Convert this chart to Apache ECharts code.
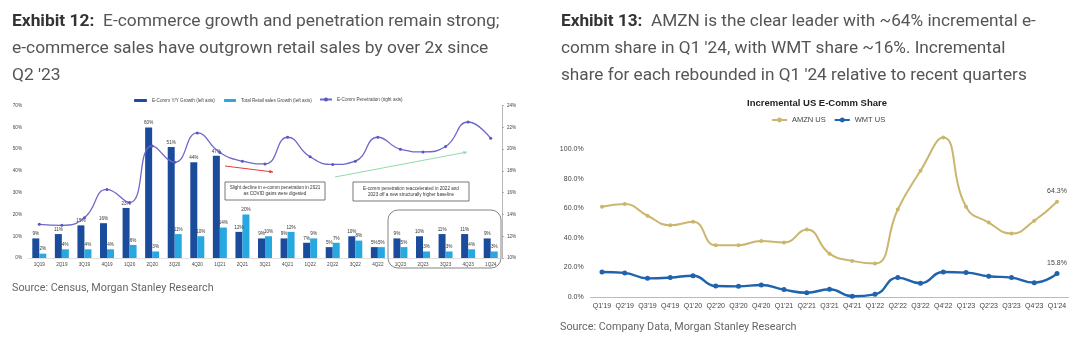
<!DOCTYPE html>
<html style="height: 100%">
<head>
    <meta charset="utf-8">
    <script type="text/javascript" src="https://cdn.jsdelivr.net/npm/echarts@6/dist/echarts.min.js"></script>
</head>
<body style="height: 100%; margin: 0; background: #fff">
<div id="container" style="width: 1086px; height: 352px"></div>
<script type="text/javascript">
    // Exhibit 12 data
    var quarters = ['1Q19','2Q19','3Q19','4Q19','1Q20','2Q20','3Q20','4Q20','1Q21','2Q21','3Q21',
        '4Q21','1Q22','2Q22','3Q22','4Q22','1Q23','2Q23','3Q23','4Q23','1Q24'];
    var ecommGrowth = [9, 11, 15, 16, 23, 60, 51, 44, 47, 12, 9, 9, 7, 5, 10, 5, 9, 10, 11, 11, 9];
    var retailGrowth = [2, 4, 4, 4, 6, 3, 11, 10, 14, 20, 10, 12, 9, 7, 8, 5, 5, 3, 3, 4, 3];
    var ecommPen = [13.1, 13.0, 13.7, 16.3, 15.1, 20.3, 18.8, 21.5, 19.7, 18.9, 18.65,
        21.1, 19.3, 18.6, 18.9, 21.1, 20.0, 19.75, 20.25, 22.5, 21.0];

    // Exhibit 13 data
    var shareQuarters = ["Q1'19","Q2'19","Q3'19","Q4'19","Q1'20","Q2'20","Q3'20","Q4'20","Q1'21","Q2'21","Q3'21",
        "Q4'21","Q1'22","Q2'22","Q3'22","Q4'22","Q1'23","Q2'23","Q3'23","Q4'23","Q1'24"];
    var amznShare = [61.0, 62.8, 54.9, 48.5, 50.8, 35.0, 35.0, 37.9, 36.8, 45.6, 29.3,
        24.4, 22.6, 59.1, 85.3, 107.7, 61.0, 50.3, 42.9, 51.5, 64.3];
    var wmtShare = [16.9, 16.3, 12.6, 13.1, 14.4, 7.4, 7.2, 8.1, 5.0, 2.9, 5.2,
        0.5, 1.8, 13.1, 9.3, 16.9, 16.5, 14.0, 13.1, 9.7, 15.8];

    var myChart = echarts.init(document.getElementById('container'));
    var tiny = {fontSize: 4.6, color: '#444', fontFamily: 'Arial, "Liberation Sans", sans-serif'};
    var narrow = '"Liberation Sans Narrow", "Arial Narrow", "Liberation Sans", sans-serif';

    function lastLabel(arr) {
        return arr.map(function (v, i) {
            return i === arr.length - 1 ? {value: v, label: {show: true}} : v;
        });
    }

    function arrow(x1, y1, x2, y2, color) {
        var a = Math.atan2(y2 - y1, x2 - x1), s = 4;
        return [{
            type: 'line', shape: {x1: x1, y1: y1, x2: x2, y2: y2},
            style: {stroke: color, lineWidth: 1}
        }, {
            type: 'polygon',
            shape: {points: [[x2, y2],
                [x2 - s * Math.cos(a - 0.45), y2 - s * Math.sin(a - 0.45)],
                [x2 - s * Math.cos(a + 0.45), y2 - s * Math.sin(a + 0.45)]]},
            style: {fill: color}
        }];
    }

    function box(x, y, w, h, text) {
        return [{
            type: 'rect', shape: {x: x, y: y, width: w, height: h},
            style: {fill: '#fff', stroke: '#555', lineWidth: 0.8}
        }, {
            type: 'text', x: x + w / 2, y: y + h / 2,
            style: {text: text, fill: '#333', fontSize: 4.6, align: 'center', verticalAlign: 'middle',
                lineHeight: 6, fontFamily: 'Arial, "Liberation Sans", sans-serif'}
        }];
    }

    function titleStyle(size) {
        return {
            fontSize: size, color: '#555', fontFamily: 'Roboto', fontWeight: 'normal', lineHeight: 27,
            rich: {b: {fontSize: size, fontWeight: 'bold', color: '#333', fontFamily: 'Roboto', lineHeight: 27}}
        };
    }

    var option = {
        animation: false,
        title: [{
            text: "{b|Exhibit 12:}  E-commerce growth and penetration remain strong;\ne-commerce sales have outgrown retail sales by over 2x since\nQ2 '23",
            left: 12, top: 8, padding: 0, textStyle: titleStyle(17.4)
        }, {
            text: "{b|Exhibit 13:}  AMZN is the clear leader with ~64% incremental e-\ncomm share in Q1 '24, with WMT share ~16%. Incremental\nshare for each rebounded in Q1 '24 relative to recent quarters",
            left: 561, top: 8, padding: 0, textStyle: titleStyle(17.2)
        }, {
            text: 'Source: Census, Morgan Stanley Research',
            left: 12, top: 283, padding: 0,
            textStyle: {fontSize: 10.8, color: '#666', fontFamily: 'Roboto', fontWeight: 'normal'}
        }, {
            text: 'Source: Company Data, Morgan Stanley Research',
            left: 560, top: 322, padding: 0,
            textStyle: {fontSize: 10.8, color: '#666', fontFamily: 'Roboto', fontWeight: 'normal'}
        }, {
            text: 'Incremental US E-Comm Share',
            left: 817, top: 98, padding: 0, textAlign: 'center',
            textStyle: {fontSize: 9.5, color: '#222', fontWeight: 'bold', fontFamily: narrow}
        }],
        legend: [{
            data: ['E-Comm Y/Y Growth (left axis)'], left: 134, top: 98, padding: 0,
            itemWidth: 13, itemHeight: 3, textStyle: tiny
        }, {
            data: ['Total Retail sales Growth (left axis)'], left: 224, top: 98, padding: 0,
            itemWidth: 12, itemHeight: 3, textStyle: tiny
        }, {
            data: ['E-Comm Penetration (right axis)'], left: 319, top: 97, padding: 0,
            itemWidth: 12, itemHeight: 5, textStyle: tiny
        }, {
            data: ['AMZN US', 'WMT US'], left: 771, top: 116, padding: 0, itemGap: 8,
            itemWidth: 15, itemHeight: 6,
            textStyle: {fontSize: 7.5, color: '#444', fontFamily: narrow}
        }],
        grid: [
            {left: 28, right: 584, top: 105.7, bottom: 94},
            {left: 590.6, right: 17.6, top: 149, bottom: 55}
        ],
        xAxis: [{
            type: 'category', gridIndex: 0, data: quarters,
            axisLine: {lineStyle: {color: '#ccc', type: 'dotted', width: 0.6}},
            axisTick: {show: false},
            axisLabel: {fontSize: 4.6, color: '#444', margin: 4, interval: 0}
        }, {
            type: 'category', gridIndex: 1, data: shareQuarters,
            axisLine: {lineStyle: {color: '#bbb', width: 1}},
            axisTick: {show: false},
            axisLabel: {fontSize: 7, color: '#444', margin: 6, interval: 0, fontFamily: narrow}
        }],
        yAxis: [{
            type: 'value', gridIndex: 0, min: 0, max: 70, interval: 10,
            splitLine: {show: false}, axisLine: {show: false}, axisTick: {show: false},
            axisLabel: {fontSize: 4.6, color: '#444', margin: 6, formatter: '{value}%'}
        }, {
            type: 'value', gridIndex: 0, position: 'right', min: 10, max: 24, interval: 2,
            splitLine: {show: false},
            axisLine: {show: true, lineStyle: {color: '#888', width: 0.6}},
            axisTick: {show: true, length: 2, lineStyle: {color: '#888', width: 0.6}},
            axisLabel: {fontSize: 4.6, color: '#444', margin: 5, formatter: '{value}%'}
        }, {
            type: 'value', gridIndex: 1, min: 0, max: 100, interval: 20,
            splitLine: {show: false}, axisLine: {show: false}, axisTick: {show: false},
            axisLabel: {fontSize: 7, color: '#444', margin: 7, fontFamily: narrow,
                formatter: function (v) { return v.toFixed(1) + '%'; }}
        }],
        series: [{
            name: 'E-Comm Y/Y Growth (left axis)', type: 'bar', xAxisIndex: 0, yAxisIndex: 0,
            data: ecommGrowth, barWidth: 7, barGap: '0%',
            itemStyle: {color: '#1b4c9c'},
            label: {show: true, position: 'top', distance: 2, formatter: '{c}%', fontSize: 4.6, color: '#333'}
        }, {
            name: 'Total Retail sales Growth (left axis)', type: 'bar', xAxisIndex: 0, yAxisIndex: 0,
            data: retailGrowth, barWidth: 7,
            itemStyle: {color: '#27a8e0'},
            label: {show: true, position: 'top', distance: 2, formatter: '{c}%', fontSize: 4.6, color: '#333'}
        }, {
            name: 'E-Comm Penetration (right axis)', type: 'line', xAxisIndex: 0, yAxisIndex: 1,
            data: ecommPen, smooth: 0.5, symbol: 'circle', symbolSize: 3,
            lineStyle: {color: '#6d67cc', width: 1.3}, itemStyle: {color: '#5b55bd'}, z: 5
        }, {
            name: 'AMZN US', type: 'line', xAxisIndex: 1, yAxisIndex: 2,
            data: lastLabel(amznShare), smooth: 0.5, symbol: 'circle', symbolSize: 4, clip: false,
            lineStyle: {color: '#cbb66e', width: 2}, itemStyle: {color: '#cbb66e'},
            label: {show: false, position: 'top', distance: 5, fontSize: 7, color: '#444', fontFamily: narrow,
                formatter: function (p) { return p.value.toFixed(1) + '%'; }}
        }, {
            name: 'WMT US', type: 'line', xAxisIndex: 1, yAxisIndex: 2,
            data: lastLabel(wmtShare), smooth: 0.5, symbol: 'circle', symbolSize: 5, clip: false,
            lineStyle: {color: '#1f62ad', width: 2.4}, itemStyle: {color: '#1f62ad'},
            label: {show: false, position: 'top', distance: 5, fontSize: 7, color: '#444', fontFamily: narrow,
                formatter: function (p) { return p.value.toFixed(1) + '%'; }}
        }],
        graphic: [].concat(
            arrow(225, 166, 273, 172, '#e8393a'),
            arrow(335, 177, 467, 152, '#8fdba8'),
            box(225, 182, 100, 18, 'Slight decline in e-comm penetration in 2021\nas COVID gains were digested'),
            box(353, 182, 116, 19, 'E-comm penetration reaccelerated in 2022 and\n2023 off a new structurally higher baseline'),
            [{
                type: 'rect', shape: {x: 388, y: 210, width: 113, height: 58, r: 10},
                style: {fill: 'none', stroke: '#666', lineWidth: 0.8}
            }]
        )
    };
    myChart.setOption(option);
</script>
</body>
</html>
